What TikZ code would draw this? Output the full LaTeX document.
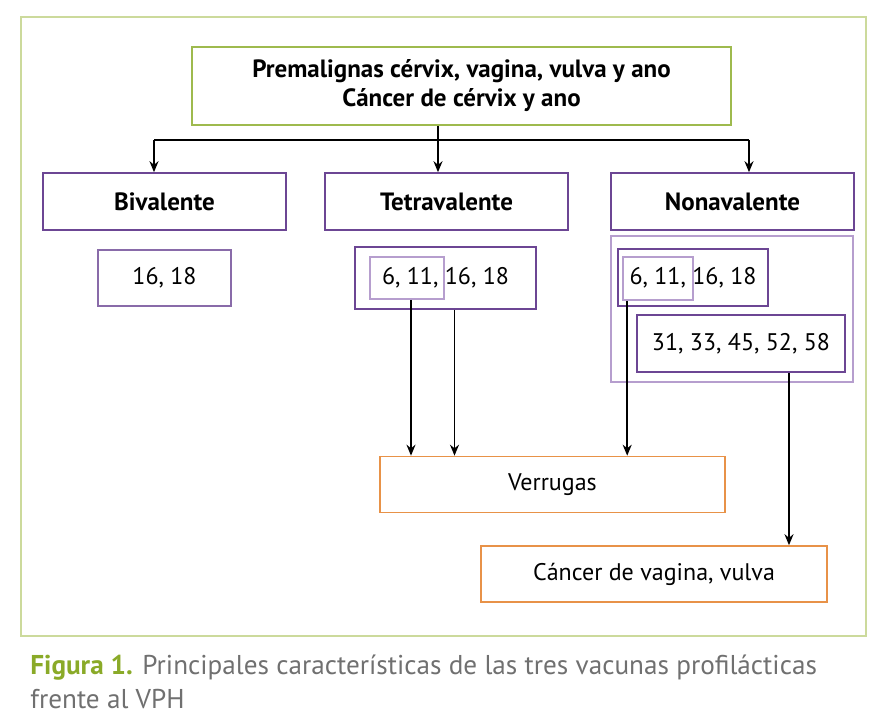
\documentclass[tikz,border=0pt]{standalone}
\usepackage{fontspec}
\setmainfont{PT Sans}
\usetikzlibrary{arrows.meta}

\definecolor{vphPurple}{RGB}{108,70,148}
\definecolor{vphLilac}{RGB}{182,158,206}
\definecolor{vphOrange}{RGB}{232,146,72}
\definecolor{vphGreen}{RGB}{158,186,78}
\definecolor{vphFrame}{RGB}{204,218,156}
\definecolor{vphCapGreen}{RGB}{138,170,40}
\definecolor{vphGray}{RGB}{112,112,112}

\begin{document}
\begin{tikzpicture}[x=0.5pt, y=-0.5pt, >={Stealth[length=5.5pt,width=4.5pt]},
  box/.style={draw=vphPurple, line width=0.8pt, inner sep=0pt,
    font=\fontsize{12}{14}\selectfont},
  headbox/.style={box, font=\fontsize{12.5}{14.5}\selectfont\bfseries,
    minimum width=121.5pt, minimum height=28.5pt},
  lightbox/.style={draw=vphLilac, line width=0.8pt, inner sep=0pt},
  endbox/.style={box, draw=vphOrange, minimum height=28pt},
  link/.style={->, line width=0.8pt}]
  \useasboundingbox (0,0) rectangle (890,722);

  % Frame
  \draw[vphFrame, line width=0.8pt] (21,17) rectangle (866,636);

  % Top box
  \node[box, draw=vphGreen, font=\fontsize{12.5}{14.5}\selectfont\bfseries,
    align=center, minimum width=269.5pt, minimum height=39pt] (top) at (461.5,86)
    {Premalignas cérvix, vagina, vulva y ano\\Cáncer de cérvix y ano};

  % Vaccines
  \node[headbox] (biv) at (164.5,201.5) {Bivalente};
  \node[headbox] (tetra) at (446.5,201.5) {Tetravalente};
  \node[headbox] (nona) at (732.5,201.5) {Nonavalente};

  % Branch from top box
  \coordinate (split) at (438,140);
  \coordinate (bivIn) at (154,140);
  \coordinate (nonaIn) at (749,140);
  \draw[line width=0.8pt] (split |- top.south) -- (split);
  \draw[line width=0.8pt] (bivIn) -- (nonaIn);
  \draw[link] (bivIn) -- (bivIn |- biv.north);
  \draw[link] (split) -- (split |- tetra.north);
  \draw[link] (nonaIn) -- (nonaIn |- nona.north);

  % Types
  \node[box, draw=vphPurple!80, minimum width=66.5pt, minimum height=28pt] (bTypes) at (164.5,278) {16, 18};

  \node[box, minimum width=90.5pt, minimum height=31pt] (tTypes) at (445.5,278) {6, 11, 16, 18};
  \node[lightbox, minimum width=37pt, minimum height=21pt] (tWart) at (407,278) {};

  \node[lightbox, minimum width=121pt, minimum height=73pt] (nGroup) at (732,309) {};
  \node[box, minimum width=75pt, minimum height=28.5pt] (nTypes) at (693,277.5) {6, 11, 16, 18};
  \node[lightbox, minimum width=35pt, minimum height=21.5pt] (nWart) at (658,278.5) {};
  \node[box, minimum width=104pt, minimum height=28.5pt] (nExtra) at (741,343.5) {31, 33, 45, 52, 58};

  % Outcomes
  \node[endbox, minimum width=172.5pt] (verr) at (552.5,484.5) {Verrugas};
  \node[endbox, minimum width=173pt] (cancer) at (654,574) {Cáncer de vagina, vulva};

  \draw[link] ([xshift=2pt]tWart.south) -- ([xshift=2pt]tWart.south |- verr.north);
  \draw[link] ([xshift=4.5pt]tTypes.south) -- ([xshift=4.5pt]tTypes.south |- verr.north);
  \draw[link] ([xshift=2.5pt]nWart.south west) -- ([xshift=2.5pt]nWart.south west |- verr.north);
  \draw[link] ([xshift=24pt]nExtra.south) -- ([xshift=24pt]nExtra.south |- cancer.north);

  % Caption
  \node[anchor=base west, align=left, inner sep=0pt, text=vphGray,
    font=\fontsize{13.6}{17}\selectfont] (caption) at (30,708)
    {{\color{vphCapGreen}\bfseries Figura 1.} Principales características de las tres vacunas profilácticas\\frente al VPH};
\end{tikzpicture}
\end{document}
